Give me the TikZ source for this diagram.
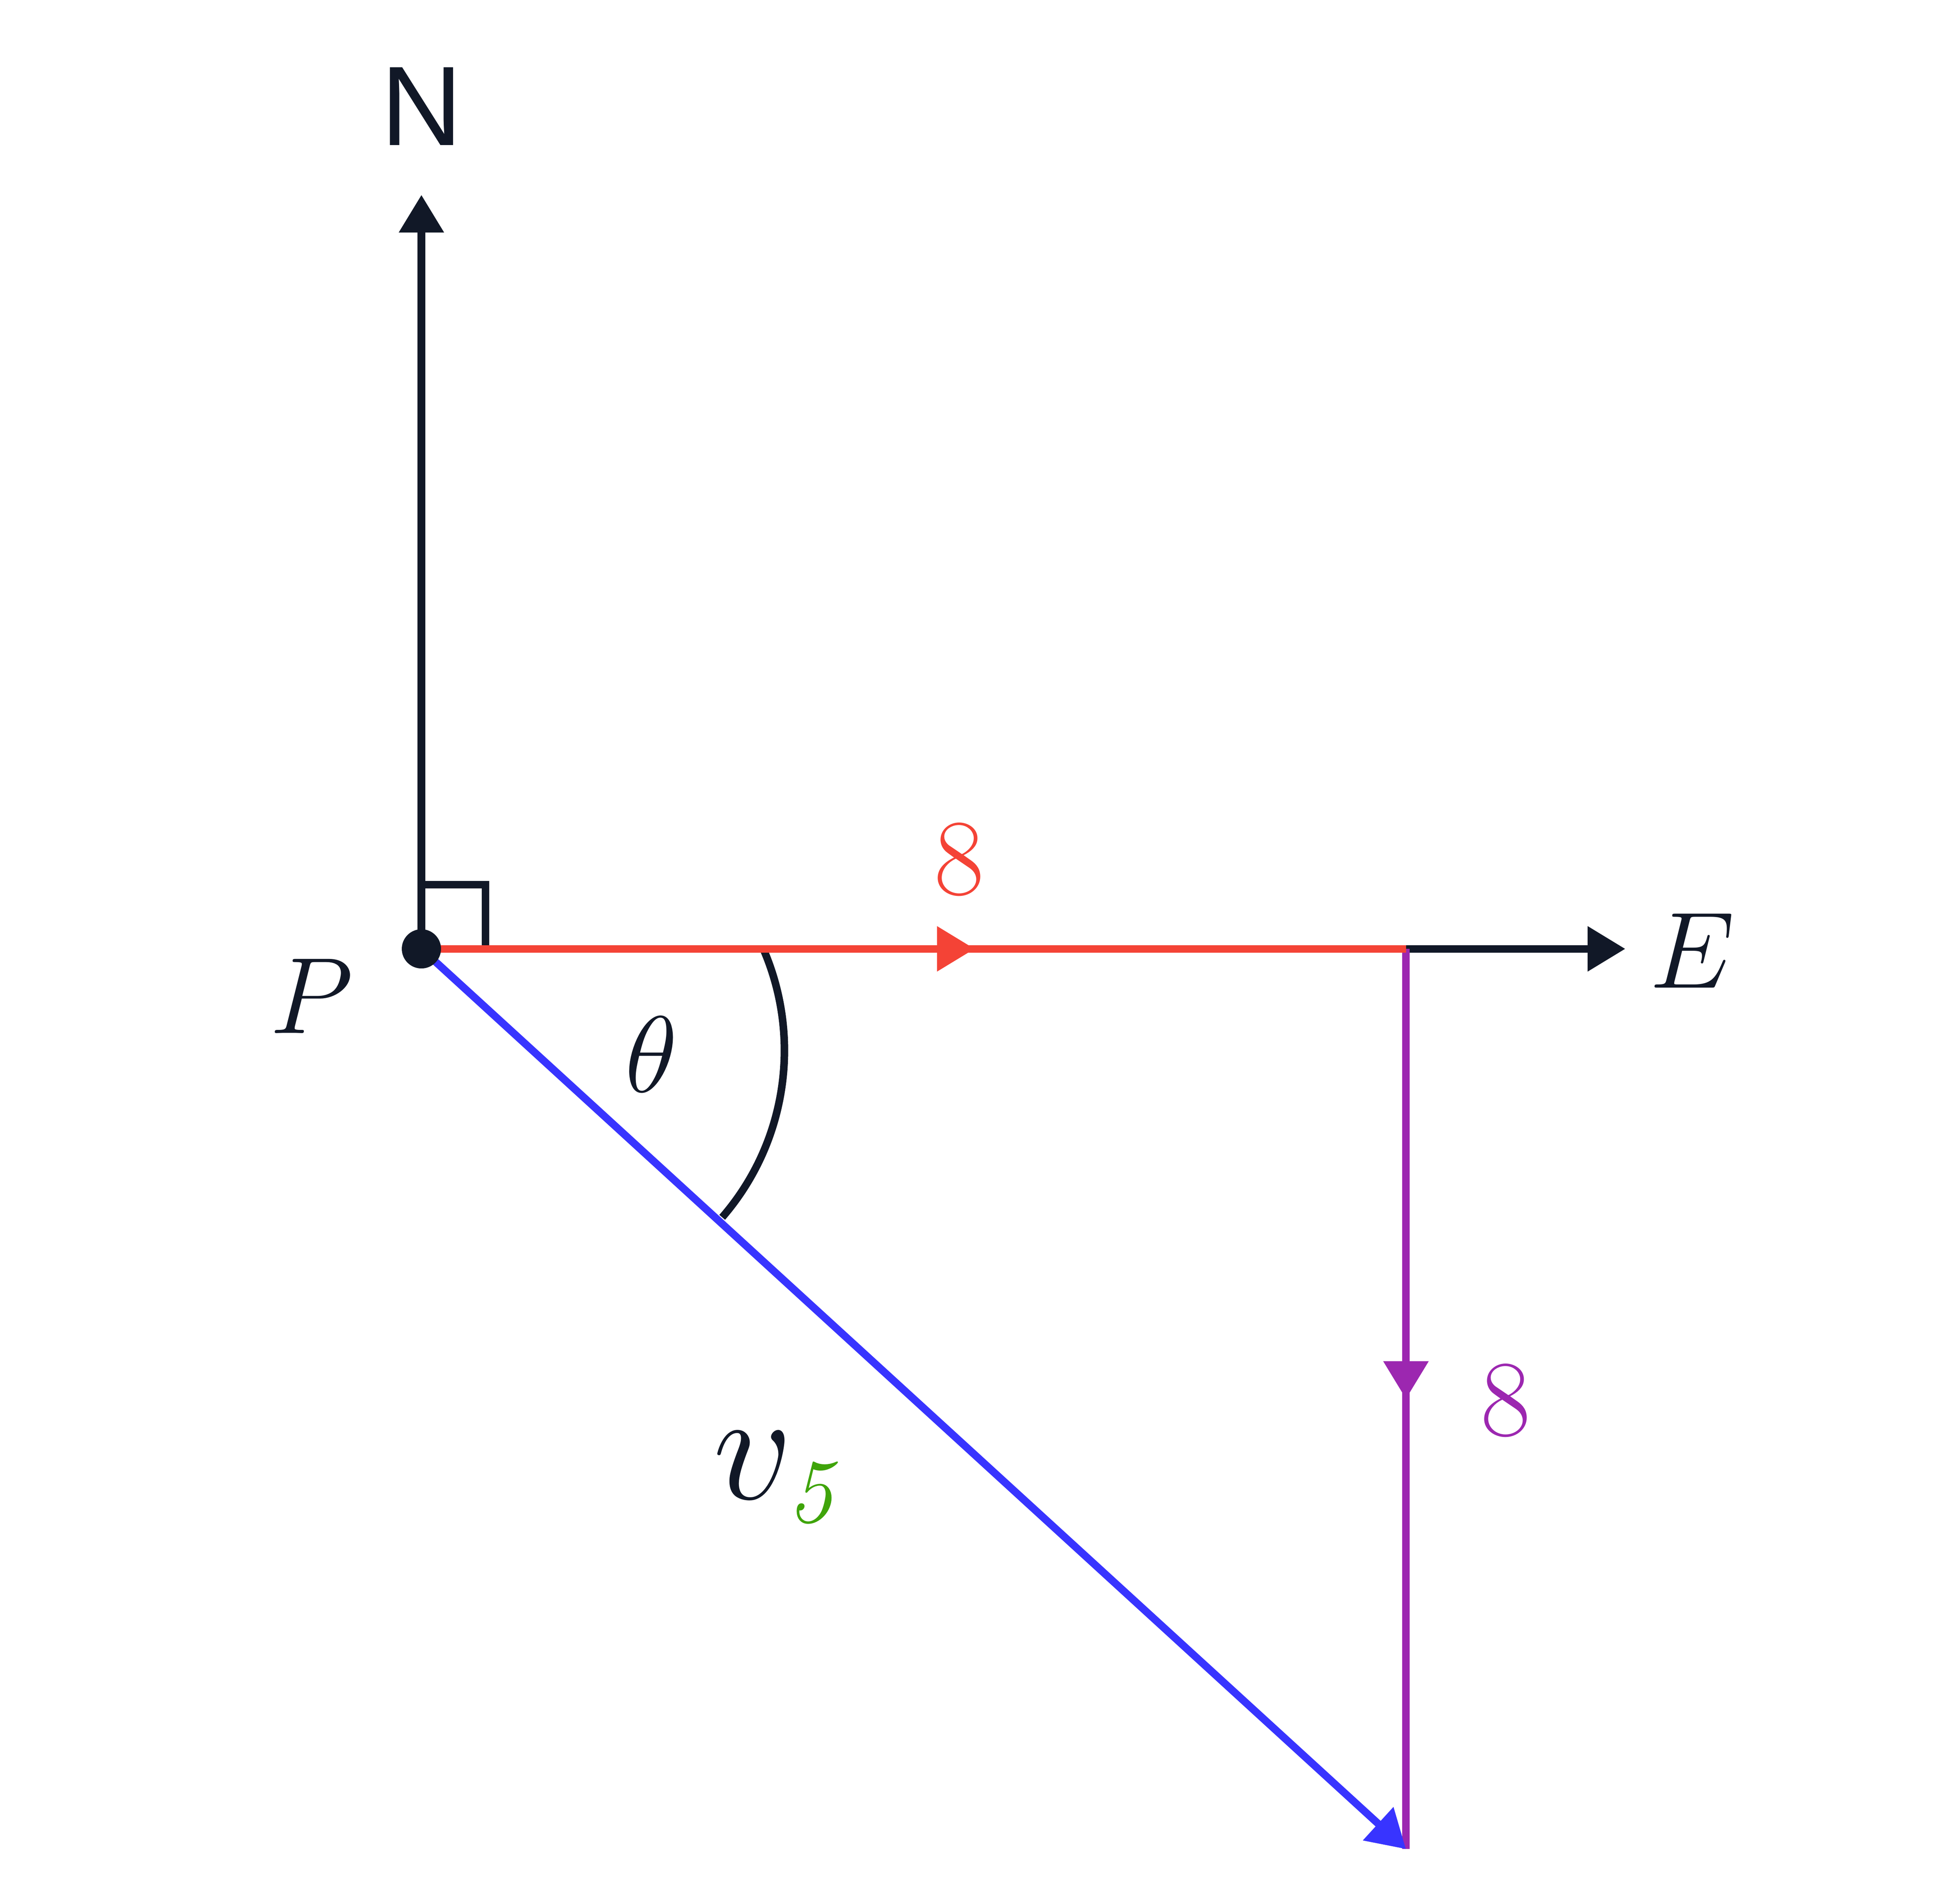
\documentclass[tikz,border=0pt]{standalone}
\usepackage{fontspec}
\newfontfamily\kompassfont{Liberation Sans}
\usetikzlibrary{arrows.meta, decorations.markings}
\definecolor{dunkel}{RGB}{17,24,39}
\definecolor{ostrot}{RGB}{244,67,54}
\definecolor{suedlila}{RGB}{156,39,176}
\definecolor{kursblau}{RGB}{56,52,255}
\definecolor{indexgruen}{RGB}{63,164,10}

\begin{document}
\begin{tikzpicture}[x=6pt, y=6pt, line width=1.2pt, dunkel,
    every node/.style={inner sep=0pt, font=\fontsize{18}{22}\selectfont},
    spitze/.style={-{Triangle[length=6pt,width=6.9pt]}},
    mitte/.style={postaction={decorate}, decoration={markings,
        mark=at position #1 with {\arrow{Triangle[length=6pt,width=6.9pt]}}}}]

    \useasboundingbox (0,0) rectangle (52,50);

    \coordinate (P) at (11.18,24.83);
    \coordinate (Q) at (37.30,24.83);
    \coordinate (R) at (37.30,0.95);
    \coordinate (Nspitze) at (11.18,44.83);
    \coordinate (Espitze) at (43.12,24.83);

    \draw[spitze] (P) -- (Nspitze);
    \draw[spitze] (P) -- (Espitze);
    \node (N) at (11.19,47.18) {\kompassfont N};
    \node (E) at (44.90,24.78) {$E$};

    % rechter Winkel bei P
    \draw (P) ++(0,1.7) -| ++(1.7,-1.7);

    % Winkel theta
    \draw (P) ++(9.07,0) arc[start angle=23.5, end angle=-40.9, radius=6.76];
    \node (theta) at (17.28,22.03) {$\theta$};

    \draw[suedlila, mitte=0.5] (Q) -- (R);
    \draw[ostrot, mitte=0.562] (P) -- (Q);
    \draw[kursblau, spitze] (P) -- (R);
    \fill (P) circle (0.52);

    \node (Plabel) at (8.26,23.57) {$P$};
    \node[ostrot] (ost) at (25.45,27.20) {$8$};
    \node[suedlila] (sued) at (39.95,12.85) {$8$};
    \node[anchor=base west, font=\fontsize{23}{28}\selectfont] (v5) at (18.82,10.24)
        {$v_{\scalebox{0.9}{$\scriptstyle\color{indexgruen}\mathit{5}$}}$};

\end{tikzpicture}
\end{document}
